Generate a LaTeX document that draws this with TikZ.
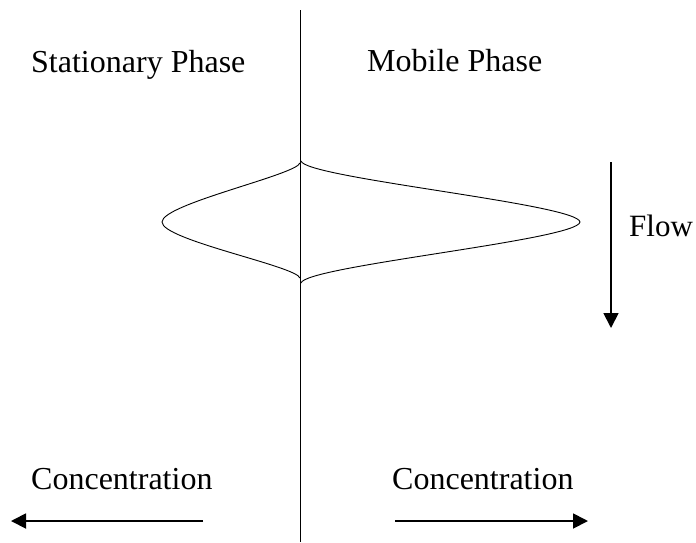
\documentclass[tikz,border=0pt]{standalone}
\usepackage{fontspec}
\setmainfont{Liberation Serif}
\usetikzlibrary{arrows.meta}
\usetikzlibrary{positioning}
\tikzset{flowarrow/.style = {line width=1.8pt,
                             -{Triangle[length=15pt, width=15pt]}}}
\tikzset{phasetext/.style = {inner sep=0pt, anchor=base west,
                             font=\fontsize{32}{38}\selectfont}}

\begin{document}
\begin{tikzpicture}[x=1pt, y=-1pt]
    \useasboundingbox (0, 0) rectangle (696, 542);

    \coordinate (top) at (300.5, 10);
    \coordinate (bottom) at (300.5, 542);
    \draw [line width=1.3pt] (top) -- (bottom);

    \node [phasetext] (stationary) at (31, 72) {Stationary Phase};
    \node [phasetext] (mobile) at (367, 71) {Mobile Phase};

    % the two peaks
    \draw [line width=0.9pt] (300, 163) .. controls (296, 175) and (162, 204) .. (162, 222)
                            .. controls (162, 240) and (296, 266) .. (300, 278);
    \draw [line width=0.9pt] (301, 161) .. controls (305, 178) and (578, 204) .. (580, 222)
                            .. controls (578, 240) and (305, 266) .. (301, 283);

    \coordinate (flowstart) at (611, 162);
    \coordinate (flowend) at (611, 328);
    \draw [flowarrow] (flowstart) -- (flowend);
    \node [phasetext, font=\fontsize{31}{37}\selectfont] (flow) at (629, 236) {Flow};

    \node [phasetext] (concleft) at (31, 489) {Concentration};
    \node [phasetext] (concright) at (392, 489) {Concentration};

    \coordinate (leftstart) at (203, 521);
    \coordinate (leftend) at (11, 521);
    \coordinate (rightstart) at (395, 521);
    \coordinate (rightend) at (588, 521);
    \draw [flowarrow] (leftstart) -- (leftend);
    \draw [flowarrow] (rightstart) -- (rightend);
\end{tikzpicture}
\end{document}
